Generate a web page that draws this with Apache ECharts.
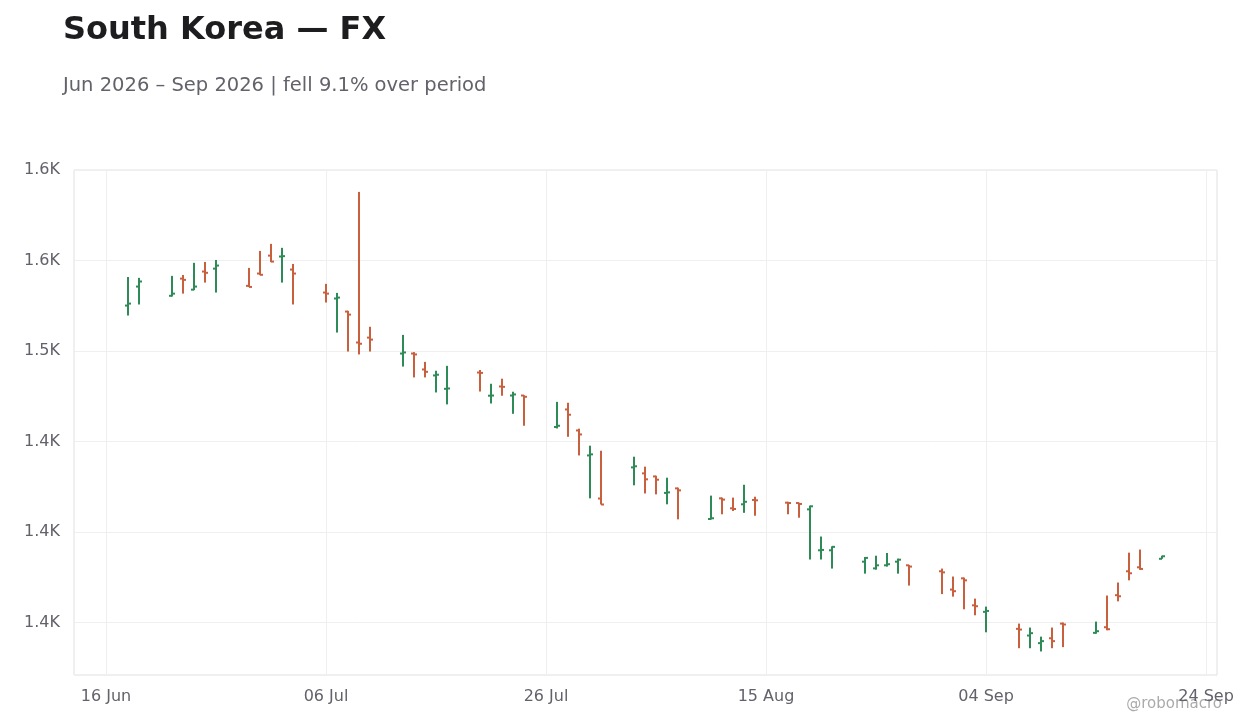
<!DOCTYPE html>
<html><head><meta charset="utf-8">
<script src="https://cdn.jsdelivr.net/npm/echarts@6/dist/echarts.min.js"></script>
<style>html,body{margin:0;padding:0;background:#fff}#c{width:1260px;height:728px}</style>
</head><body><div id="c"></div>
<script>
const dates = ['2026-06-18','2026-06-19','2026-06-22','2026-06-23','2026-06-24','2026-06-25','2026-06-26','2026-06-29','2026-06-30','2026-07-01','2026-07-02','2026-07-03','2026-07-06','2026-07-07','2026-07-08','2026-07-09','2026-07-10','2026-07-13','2026-07-14','2026-07-15','2026-07-16','2026-07-17','2026-07-20','2026-07-21','2026-07-22','2026-07-23','2026-07-24','2026-07-27','2026-07-28','2026-07-29','2026-07-30','2026-07-31','2026-08-03','2026-08-04','2026-08-05','2026-08-06','2026-08-07','2026-08-10','2026-08-11','2026-08-12','2026-08-13','2026-08-14','2026-08-17','2026-08-18','2026-08-19','2026-08-20','2026-08-21','2026-08-24','2026-08-25','2026-08-26','2026-08-27','2026-08-28','2026-08-31','2026-09-01','2026-09-02','2026-09-03','2026-09-04','2026-09-07','2026-09-08','2026-09-09','2026-09-10','2026-09-11','2026-09-14','2026-09-15','2026-09-16','2026-09-17','2026-09-18','2026-09-20'];
const openV = [1525.1,1535.6,1530.5,1540.0,1533.9,1543.9,1545.5,1536.0,1542.8,1552.7,1552.2,1545.0,1532.3,1529.0,1521.8,1504.7,1507.4,1498.6,1498.6,1489.8,1486.5,1479.1,1488.1,1475.3,1480.4,1475.4,1475.4,1458.0,1467.7,1456.1,1442.3,1418.5,1435.7,1432.4,1430.7,1421.6,1424.1,1407.2,1418.6,1413.1,1415.3,1417.7,1416.2,1416.0,1412.5,1389.9,1389.9,1383.6,1379.9,1381.6,1383.6,1381.6,1378.3,1368.2,1374.4,1359.5,1355.9,1346.5,1342.8,1338.6,1341.3,1349.4,1344.3,1347.4,1365.1,1378.3,1380.5,1385.2];
const highV = [1540.9,1540.4,1541.5,1542.0,1548.7,1549.2,1550.3,1545.9,1555.3,1559.2,1557.0,1548.1,1537.1,1532.1,1522.2,1587.9,1513.4,1508.9,1499.4,1494.0,1489.1,1491.8,1489.5,1481.9,1484.7,1477.5,1475.6,1471.9,1471.4,1457.1,1447.7,1444.9,1441.6,1436.1,1431.1,1430.0,1424.5,1420.1,1419.0,1419.0,1426.1,1419.5,1416.7,1416.2,1414.6,1397.5,1392.1,1386.2,1386.9,1388.4,1385.3,1381.8,1379.8,1375.4,1374.8,1363.2,1358.8,1349.4,1347.2,1342.2,1347.2,1350.0,1350.5,1364.9,1372.1,1388.6,1390.3,1386.9];
const lowV = [1519.6,1525.7,1530.1,1531.7,1533.6,1537.8,1532.3,1535.3,1541.9,1549.1,1537.8,1525.7,1526.8,1510.2,1499.7,1498.1,1499.7,1491.4,1485.4,1485.4,1477.1,1470.5,1477.6,1471.0,1475.3,1465.3,1458.7,1457.2,1452.6,1442.3,1418.6,1415.2,1425.8,1421.3,1420.8,1415.3,1407.0,1406.9,1409.8,1411.6,1410.6,1409.0,1409.8,1407.9,1384.8,1384.8,1379.8,1377.0,1379.2,1380.9,1377.0,1370.4,1365.7,1364.3,1357.3,1354.0,1344.6,1335.8,1335.8,1334.0,1335.8,1336.4,1343.8,1345.7,1361.7,1373.3,1379.1,1385.2];
const closeV = [1526.2,1538.4,1531.7,1539.3,1535.6,1543.2,1547.2,1535.4,1542.1,1549.4,1552.4,1542.8,1531.7,1529.5,1520.1,1504.0,1506.3,1499.2,1498.1,1488.5,1486.9,1479.3,1487.9,1475.4,1480.2,1476.0,1474.7,1458.7,1464.8,1453.9,1442.9,1415.2,1436.3,1429.1,1428.9,1421.9,1423.0,1407.6,1417.9,1412.7,1416.7,1417.5,1416.0,1415.5,1414.2,1390.1,1391.8,1385.7,1381.6,1382.2,1384.7,1380.9,1377.7,1367.3,1373.3,1359.0,1356.4,1346.1,1344.1,1339.7,1339.7,1348.9,1345.2,1346.3,1364.5,1377.2,1379.6,1386.6];

const BASE = Date.UTC(2026,5,16);
const DAY = 86400000;
const MON = ['Jan','Feb','Mar','Apr','May','Jun','Jul','Aug','Sep','Oct','Nov','Dec'];
const dayIdx = s => { const p=s.split('-'); return Math.round((Date.UTC(+p[0],+p[1]-1,+p[2])-BASE)/DAY)+100; };
const data = dates.map((d,i)=>[dayIdx(d), openV[i], closeV[i], lowV[i], highV[i]]);
const UP='#2e8b57', DOWN='#c8603e';

const chart = echarts.init(document.getElementById('c'));
chart.setOption({
  animation:false,
  backgroundColor:'#fff',
  title:[
    {text:'South Korea — FX', left:58, top:10, textStyle:{fontFamily:'DejaVu Sans', fontSize:32, fontWeight:'bold', color:'#1d1d1f'}},
    {text:'Jun 2026 – Sep 2026 | fell 9.1% over period', left:58, top:71, textStyle:{fontFamily:'DejaVu Sans', fontSize:19.5, fontWeight:'normal', color:'#62626a'}}
  ],
  graphic:[{type:'text', right:38, top:697, style:{text:'@robomacro', fill:'#aaaaaa', font:'15px DejaVu Sans'}}],
  grid:{left:74, right:43, top:170, bottom:53, show:true, borderColor:'#e0e0e0', borderWidth:1},
  xAxis:{type:'value', min:97.09, max:201, 
    axisLine:{show:false}, axisTick:{show:false},
    splitLine:{show:true, lineStyle:{color:'#efefef'}},
    axisLabel:{color:'#62626a', fontSize:16, fontFamily:'DejaVu Sans', margin:14, showMinLabel:false, showMaxLabel:false,
      formatter:v=>{ if(Math.abs(v%20)>1e-6) return ''; const d=new Date(BASE+(v-100)*DAY); return String(d.getUTCDate()).padStart(2,'0')+' '+MON[d.getUTCMonth()]; }}},
  yAxis:{type:'value', min:1321, max:1600,
    axisLine:{show:false}, axisTick:{show:false},
    splitLine:{show:true, lineStyle:{color:'#efefef'}},
    axisLabel:{color:'#62626a', fontSize:16, fontFamily:'DejaVu Sans', margin:14,
      formatter:v=>{ if(Math.abs(v%50)>1e-6) return ''; return (v/1000).toFixed(1)+'K'; }}},
  series:[{
    type:'custom', data:data, encode:{x:0, y:[1,2,3,4]},
    renderItem:(params, api)=>{
      const x=api.value(0), o=api.value(1), c=api.value(2), l=api.value(3), h=api.value(4);
      const col = c>=o?UP:DOWN;
      const pH=api.coord([x,h]), pL=api.coord([x,l]), pO=api.coord([x,o]), pC=api.coord([x,c]);
      const st={stroke:col, lineWidth:2};
      return {type:'group', children:[
        {type:'line', shape:{x1:pH[0],y1:pH[1],x2:pL[0],y2:pL[1]}, style:st},
        {type:'line', shape:{x1:pO[0]-3,y1:pO[1],x2:pO[0],y2:pO[1]}, style:st},
        {type:'line', shape:{x1:pC[0],y1:pC[1],x2:pC[0]+3,y2:pC[1]}, style:st}
      ]};
    }
  }]
});
</script></body></html>
